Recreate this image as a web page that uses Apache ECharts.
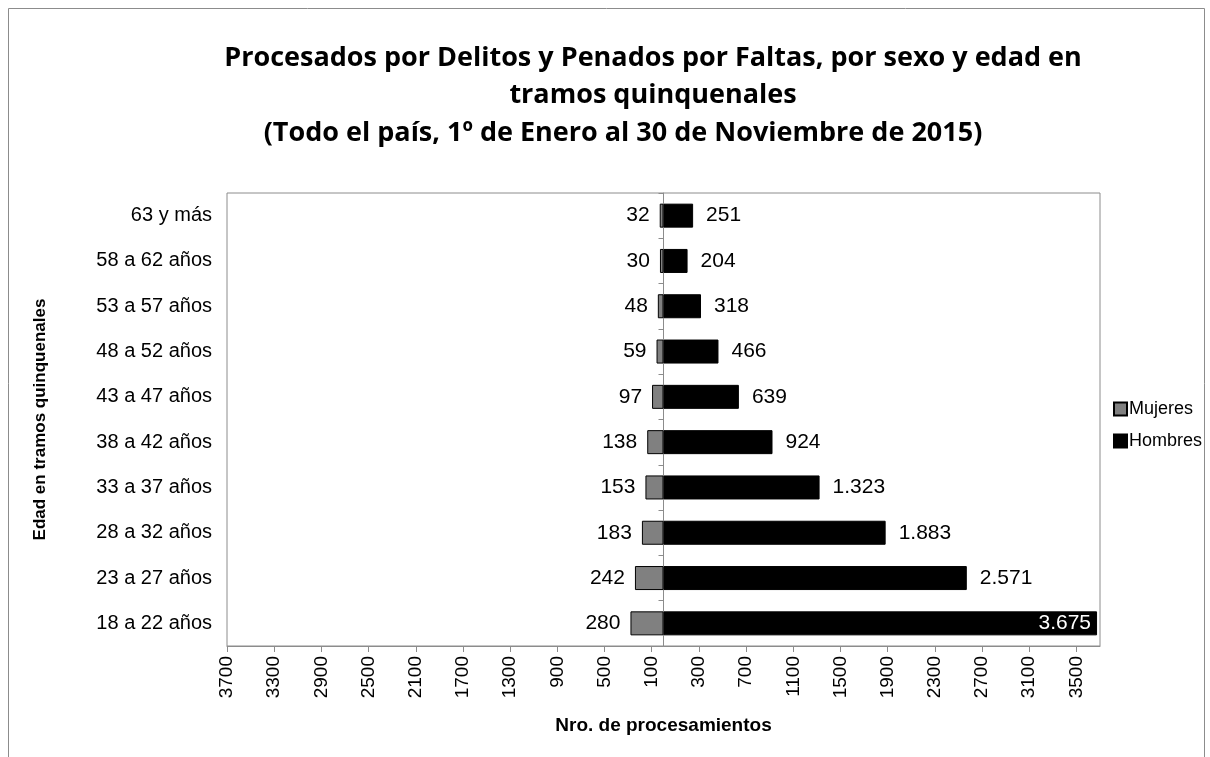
<!DOCTYPE html>
<html lang="es">
<head>
<meta charset="UTF-8">
<title>Procesados por sexo y edad</title>
<style>
  html, body { margin: 0; padding: 0; background: #fff; }
  #chart { width: 1210px; height: 757px; }
</style>
</head>
<body>
<div id="chart"></div>
<script src="https://cdn.jsdelivr.net/npm/echarts@6/dist/echarts.min.js"></script>
<script>
// categorias (de arriba hacia abajo)
var tramos = ['63 y más', '58 a 62 años', '53 a 57 años', '48 a 52 años', '43 a 47 años',
    '38 a 42 años', '33 a 37 años', '28 a 32 años', '23 a 27 años', '18 a 22 años'];
var mujeres = [32, 30, 48, 59, 97, 138, 153, 183, 242, 280];
var hombres = [251, 204, 318, 466, 639, 924, 1323, 1883, 2571, 3675];
// marcas del eje horizontal
var ticksX = [-3700, -3300, -2900, -2500, -2100, -1700, -1300, -900, -500, -100,
    300, 700, 1100, 1500, 1900, 2300, 2700, 3100, 3500];

function fmt(v) {
    // separador de miles con punto
    return String(Math.abs(v)).replace(/\B(?=(\d{3})+(?!\d))/g, '.');
}

var chart = echarts.init(document.getElementById('chart'));

var hombresData = hombres.map(function (v) {
    if (v > 3000) {
        return { value: v, label: { position: 'insideRight', color: '#fff', distance: 6 } };
    }
    return v;
});

var tituloStyle = {
    fontFamily: 'Open Sans, sans-serif',
    fontWeight: 'bold',
    fontSize: 27,
    color: '#000'
};

chart.setOption({
    animation: false,
    textStyle: { fontFamily: 'Liberation Sans, Arial, sans-serif' },
    title: [{
        text: 'Procesados por Delitos y Penados por Faltas, por sexo y edad en',
        left: 653, top: 45, textAlign: 'center', padding: 0, textStyle: tituloStyle
    }, {
        text: 'tramos quinquenales',
        left: 653, top: 82, textAlign: 'center', padding: 0, textStyle: tituloStyle
    }, {
        text: '(Todo el país, 1º de Enero al 30 de Noviembre de 2015)',
        left: 623, top: 120, textAlign: 'center', padding: 0, textStyle: tituloStyle
    }],
    legend: {
        orient: 'vertical',
        left: 1113,
        top: 400,
        padding: 0,
        icon: 'rect',
        itemWidth: 13,
        itemHeight: 13,
        itemGap: 14,
        textStyle: { fontSize: 18, color: '#000', padding: [0, 0, 0, -3] },
        data: ['Mujeres', 'Hombres']
    },
    grid: {
        left: 227,
        right: 110,
        top: 193,
        bottom: 111,
        show: true,
        borderColor: '#8c8c8c',
        borderWidth: 1
    },
    xAxis: {
        type: 'value',
        min: -3700,
        max: 3700,
        name: 'Nro. de procesamientos',
        nameLocation: 'middle',
        nameGap: 70,
        nameTextStyle: { fontWeight: 'bold', fontSize: 19, color: '#000', verticalAlign: 'top' },
        axisLine: { show: true, lineStyle: { color: '#8c8c8c' } },
        axisTick: { show: true, length: 6, customValues: ticksX, lineStyle: { color: '#8c8c8c' } },
        splitLine: { show: false },
        axisLabel: {
            customValues: ticksX,
            rotate: 90,
            fontSize: 19,
            color: '#000',
            margin: 10,
            formatter: function (v) { return String(Math.abs(v)); }
        }
    },
    yAxis: [{
        type: 'category',
        data: tramos,
        inverse: true,
        name: 'Edad en tramos quinquenales',
        nameLocation: 'middle',
        nameGap: 178,
        nameTextStyle: { fontWeight: 'bold', fontSize: 17, color: '#000' },
        axisLine: { show: false, onZero: false },
        axisTick: { show: false },
        axisLabel: { fontSize: 20, color: '#000', margin: 15 }
    }, {
        type: 'category',
        data: tramos,
        inverse: true,
        position: 'left',
        axisLine: { show: true, onZero: true, lineStyle: { color: '#8c8c8c' } },
        axisTick: { show: true, length: 5, lineStyle: { color: '#8c8c8c' } },
        axisLabel: { show: false }
    }],
    series: [{
        name: 'Mujeres',
        type: 'bar',
        stack: 'total',
        barWidth: '53%',
        itemStyle: { color: '#808080', borderColor: '#000', borderWidth: 1 },
        label: {
            show: true,
            position: 'left',
            distance: 10,
            fontSize: 21,
            color: '#000',
            formatter: function (p) { return fmt(p.value); }
        },
        data: mujeres.map(function (v) { return -v; })
    }, {
        name: 'Hombres',
        type: 'bar',
        stack: 'total',
        barWidth: '53%',
        itemStyle: { color: '#000', borderColor: '#000', borderWidth: 1 },
        label: {
            show: true,
            position: 'right',
            distance: 13,
            fontSize: 21,
            color: '#000',
            formatter: function (p) { return fmt(p.value); }
        },
        data: hombresData
    }],
    graphic: [{
        type: 'rect',
        silent: true,
        shape: { x: 8.5, y: 8.5, width: 1196, height: 760 },
        style: { fill: 'none', stroke: '#8c8c8c', lineWidth: 1 }
    }]
});
</script>
</body>
</html>
